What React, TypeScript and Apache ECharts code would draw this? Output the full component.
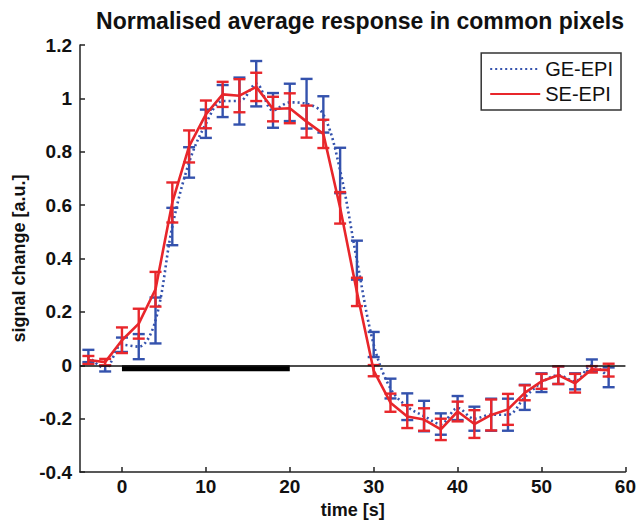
import React, { useEffect, useRef } from "react";
import * as echarts from "echarts";

const times = [-4, -2, 0, 2, 4, 6, 8, 10, 12, 14, 16, 18, 20, 22, 24, 26, 28, 30, 32, 34, 36, 38, 40, 42, 44, 46, 48, 50, 52, 54, 56, 58];

const geMean = [0.035, -0.012, 0.077, 0.07, 0.168, 0.52, 0.76, 0.905, 0.99, 0.99, 1.055, 0.955, 0.985, 0.98, 0.94, 0.73, 0.394, 0.078, -0.087, -0.155, -0.19, -0.22, -0.16, -0.2, -0.185, -0.185, -0.12, -0.065, -0.037, -0.06, 0.0, -0.045];
const geErr = [0.023, 0.011, 0.027, 0.047, 0.086, 0.07, 0.057, 0.053, 0.06, 0.088, 0.085, 0.065, 0.07, 0.093, 0.068, 0.085, 0.073, 0.047, 0.037, 0.05, 0.057, 0.04, 0.045, 0.045, 0.06, 0.06, 0.047, 0.035, 0.033, 0.03, 0.022, 0.037];

const seMean = [0.02, 0.012, 0.094, 0.156, 0.285, 0.61, 0.82, 0.94, 1.015, 1.01, 1.043, 0.96, 0.963, 0.913, 0.867, 0.59, 0.275, -0.02, -0.14, -0.192, -0.203, -0.24, -0.173, -0.22, -0.186, -0.165, -0.103, -0.06, -0.037, -0.067, -0.015, -0.018];
const seErr = [0.015, 0.012, 0.048, 0.056, 0.065, 0.075, 0.06, 0.052, 0.047, 0.062, 0.053, 0.046, 0.056, 0.06, 0.053, 0.059, 0.053, 0.021, 0.034, 0.043, 0.042, 0.04, 0.037, 0.052, 0.058, 0.058, 0.028, 0.028, 0.033, 0.035, 0.012, 0.024];

const xTicks = [0, 10, 20, 30, 40, 50, 60];
const stimulus = [0, 20];
const stimulusDepth = -0.022;

const BLUE = "#3452ad";
const RED = "#e8262b";
const FONT = "'Liberation Sans', Arial, sans-serif";

function errorSeries(name: string, mean: number[], err: number[], color: string, z: number) {
  return {
    name,
    type: "custom",
    z,
    silent: true,
    data: times.map((t, i) => [t, mean[i] - err[i], mean[i] + err[i]]),
    renderItem: (params: any, api: any) => {
      const x = api.value(0);
      const lo = api.coord([x, api.value(1)]);
      const hi = api.coord([x, api.value(2)]);
      const w = 6;
      const style = { stroke: color, lineWidth: 2.4 };
      return {
        type: "group",
        children: [
          { type: "line", shape: { x1: hi[0], y1: hi[1], x2: lo[0], y2: lo[1] }, style },
          { type: "line", shape: { x1: hi[0] - w, y1: hi[1], x2: hi[0] + w, y2: hi[1] }, style },
          { type: "line", shape: { x1: lo[0] - w, y1: lo[1], x2: lo[0] + w, y2: lo[1] }, style },
        ],
      };
    },
  };
}

export default function App() {
  const ref = useRef<HTMLDivElement>(null);
  useEffect(() => {
    if (!ref.current) return;
    const chart = echarts.init(ref.current, null, { renderer: "svg" });
    const tickText = { color: "#111", fontSize: 19, fontWeight: "bold" as const, fontFamily: FONT };
    const nameText = { color: "#111", fontSize: 18, fontWeight: "bold" as const, fontFamily: FONT };
    chart.setOption({
      animation: false,
      backgroundColor: "#fff",
      title: {
        text: "Normalised average response in common pixels",
        left: 355,
        textAlign: "center",
        top: 4,
        textStyle: { fontSize: 23, fontWeight: "bold", color: "#111", fontFamily: FONT },
      },
      legend: {
        data: ["GE-EPI", "SE-EPI"],
        orient: "vertical",
        right: 18,
        top: 53,
        itemWidth: 50,
        itemHeight: 14,
        itemGap: 5,
        padding: [6, 8, 6, 8],
        borderColor: "#333",
        borderWidth: 1.5,
        backgroundColor: "#fff",
        selectedMode: false,
        itemStyle: { opacity: 0 },
        textStyle: { fontSize: 20, color: "#111", fontFamily: FONT },
      },
      grid: { left: 80, right: 9, top: 45, bottom: 48 },
      xAxis: {
        type: "value",
        min: -5,
        max: 60,
        name: "time [s]",
        nameLocation: "middle",
        nameGap: 25,
        nameTextStyle: nameText,
        axisLine: { onZero: false, lineStyle: { color: "#222", width: 1.5 } },
        axisTick: { inside: true, length: 5, customValues: xTicks, lineStyle: { color: "#222", width: 1.5 } },
        axisLabel: { customValues: xTicks, margin: 5, ...tickText },
        splitLine: { show: false },
      },
      yAxis: {
        type: "value",
        min: -0.4,
        max: 1.2,
        interval: 0.2,
        name: "signal change [a.u.]",
        nameLocation: "middle",
        nameGap: 49,
        nameTextStyle: nameText,
        axisLine: { show: true, onZero: false, lineStyle: { color: "#222", width: 1.5 } },
        axisTick: { show: true, inside: true, length: 5, lineStyle: { color: "#222", width: 1.5 } },
        axisLabel: {
          margin: 8,
          ...tickText,
          formatter: (v: number) => String(Math.round(v * 10) / 10),
        },
        splitLine: { show: false },
      },
      series: [
        {
          name: "GE-EPI",
          type: "line",
          data: times.map((t, i) => [t, geMean[i]]),
          smooth: 0.35,
          symbol: "none",
          z: 3,
          lineStyle: { color: BLUE, width: 2.6, type: [2, 3] },
          itemStyle: { color: BLUE },
          markLine: {
            silent: true,
            symbol: "none",
            label: { show: false },
            lineStyle: { color: "#111", width: 1.5, type: "solid" },
            data: [{ yAxis: 0 }],
          },
          markArea: {
            silent: true,
            itemStyle: { color: "#000" },
            data: [[{ coord: [stimulus[0], 0] }, { coord: [stimulus[1], stimulusDepth] }]],
          },
        },
        errorSeries("GE-EPI err", geMean, geErr, BLUE, 2),
        {
          name: "SE-EPI",
          type: "line",
          data: times.map((t, i) => [t, seMean[i]]),
          symbol: "none",
          z: 5,
          lineStyle: { color: RED, width: 2.6 },
          itemStyle: { color: RED },
        },
        errorSeries("SE-EPI err", seMean, seErr, RED, 4),
      ],
    });
    return () => chart.dispose();
  }, []);
  return <div ref={ref} style={{ width: 639, height: 524, position: "absolute", left: 0, top: 0 }} />;
}
